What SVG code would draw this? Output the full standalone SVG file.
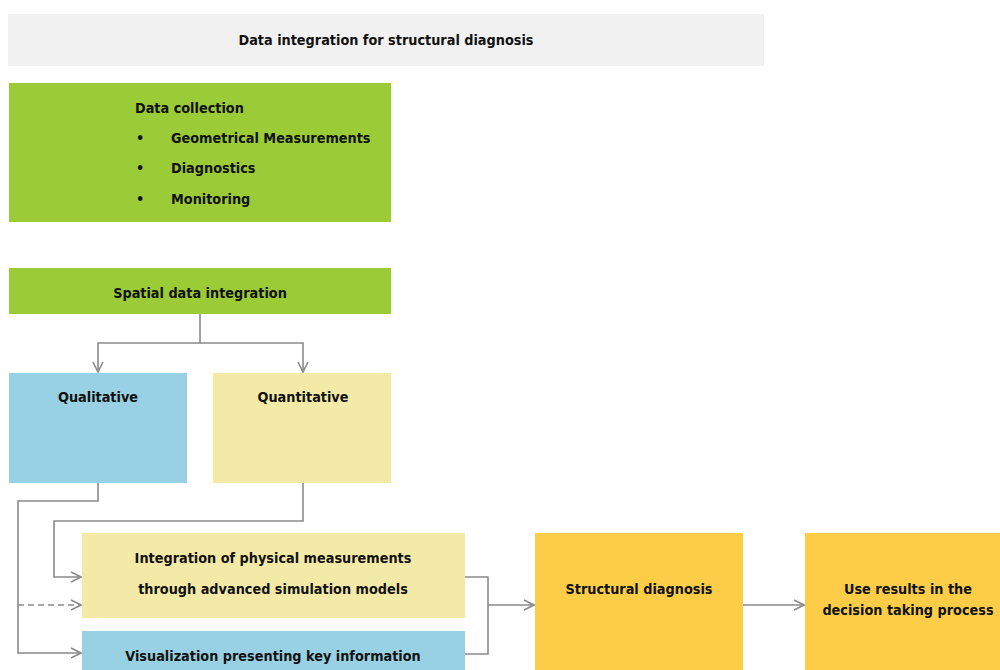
<svg xmlns="http://www.w3.org/2000/svg" width="1000" height="670" viewBox="0 0 1000 670">
<defs>
<style>
.t{font-family:"DejaVu Sans Condensed","DejaVu Sans","Liberation Sans",sans-serif;font-weight:bold;font-size:14.3px;fill:#111}
.c{text-anchor:middle}
.ln{fill:none;stroke:#8a8a8a;stroke-width:1.6}
.d{stroke-dasharray:6 4}
</style>
<marker id="ah" viewBox="0 0 12 12" refX="11" refY="6" markerWidth="12" markerHeight="12" markerUnits="userSpaceOnUse" orient="auto">
<path d="M1,1 L11,6 L1,11" fill="none" stroke="#8a8a8a" stroke-width="1.6"/>
</marker>
</defs>
<rect width="1000" height="670" fill="#fff"/>
<g id="title"><rect x="8" y="14" width="756" height="52" fill="#f1f1f1"/><text class="t c" x="386" y="45">Data integration for structural diagnosis</text></g>
<g id="collection"><rect x="9" y="83" width="382" height="139" fill="#9bcb37"/>
<text class="t" x="135" y="113">Data collection</text>
<text class="t" x="136" y="143">•</text><text class="t" x="171" y="143">Geometrical Measurements</text>
<text class="t" x="136" y="173">•</text><text class="t" x="171" y="173">Diagnostics</text>
<text class="t" x="136" y="204">•</text><text class="t" x="171" y="204">Monitoring</text></g>
<g id="spatial"><rect x="9" y="268" width="382" height="46" fill="#9bcb37"/><text class="t c" x="200" y="298">Spatial data integration</text></g>
<g id="qualitative"><rect x="9" y="373" width="178" height="110" fill="#98d1e3"/><text class="t c" x="98" y="402">Qualitative</text></g>
<g id="quantitative"><rect x="213" y="373" width="178" height="110" fill="#f4eaa8"/><text class="t c" x="303" y="402">Quantitative</text></g>
<g id="integration"><rect x="82" y="533" width="383" height="85" fill="#f4eaa8"/><text class="t c" x="273" y="563">Integration of physical measurements</text><text class="t c" x="273" y="594">through advanced simulation models</text></g>
<g id="visualization"><rect x="82" y="631" width="383" height="45" fill="#98d1e3"/><text class="t c" x="273" y="661">Visualization presenting key information</text></g>
<g id="diagnosis"><rect x="535" y="533" width="208" height="145" fill="#fdcd47"/><text class="t c" x="639" y="594">Structural diagnosis</text></g>
<g id="use"><rect x="805" y="533" width="200" height="145" fill="#fdcd47"/><text class="t c" x="908" y="594">Use results in the</text><text class="t c" x="908" y="615">decision taking process</text></g>
<g id="connectors">
<path class="ln" d="M200,314 V343 H98 V372" marker-end="url(#ah)"/>
<path class="ln" d="M200,343 H303 V372" marker-end="url(#ah)"/>
<path class="ln" d="M98,483 V501 H18 V653 H81" marker-end="url(#ah)"/>
<path class="ln d" d="M18,605 H81" marker-end="url(#ah)"/>
<path class="ln" d="M303,483 V521 H54 V577 H81" marker-end="url(#ah)"/>
<path class="ln" d="M465,577 H488 V654 H465"/>
<path class="ln" d="M488,605 H534" marker-end="url(#ah)"/>
<path class="ln" d="M743,605 H804" marker-end="url(#ah)"/>
</g>
</svg>
